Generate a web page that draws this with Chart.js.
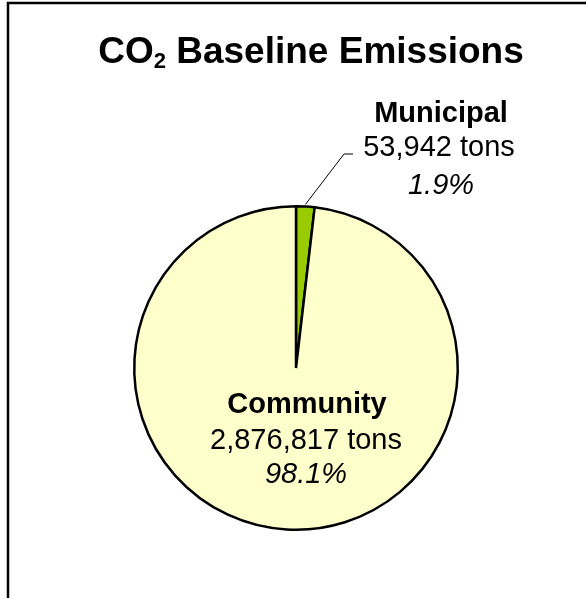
<!DOCTYPE html>
<html>
<head>
<meta charset="utf-8">
<script src="https://cdn.jsdelivr.net/npm/chart.js@4/dist/chart.umd.min.js"></script>
<style>
  html, body { margin: 0; padding: 0; background: #ffffff; }
  #wrap { width: 586px; height: 598px; position: relative; }
</style>
</head>
<body>
<div id="wrap"><canvas id="grafico"></canvas></div>
<script>
// Datos del gráfico
const categorias = ['Municipal', 'Community'];
const toneladas = [53942, 2876817];
const porcentajes = ['1.9%', '98.1%'];
const colores = ['#99CC00', '#FFFFCC'];

const fuente = '"Liberation Sans", Arial, sans-serif';

let formatoMiles = (n) => n.toLocaleString('en-US');

// Marco, título y etiquetas dibujadas a mano
const plugin = {
  id: 'etiquetas',
  beforeDraw(chart) {
    const ctx = chart.ctx;
    ctx.save();
    ctx.strokeStyle = '#000000';
    ctx.lineWidth = 2.5;
    ctx.beginPath();
    ctx.moveTo(8, 598);
    ctx.lineTo(8, 3);
    ctx.lineTo(586, 3);
    ctx.stroke();
    ctx.restore();
  },
  afterDraw(chart) {
    const ctx = chart.ctx;
    const arcs = chart.getDatasetMeta(0).data;
    const cx = arcs[0].x;
    const cy = arcs[0].y;
    const r = arcs[0].outerRadius;

    ctx.save();
    ctx.fillStyle = '#000000';
    ctx.textBaseline = 'alphabetic';

    // Título con subíndice
    const grande = 'bold 37px ' + fuente;
    const chico = 'bold 22px ' + fuente;
    ctx.font = grande;
    const wCO = ctx.measureText('CO').width;
    const wResto = ctx.measureText(' Baseline Emissions').width;
    ctx.font = chico;
    const w2 = ctx.measureText('2').width;
    let x = 311 - (wCO + w2 + wResto) / 2;
    ctx.textAlign = 'left';
    ctx.font = grande;
    ctx.fillText('CO', x, 63);
    x += wCO;
    ctx.font = chico;
    ctx.fillText('2', x, 68);
    x += w2;
    ctx.font = grande;
    ctx.fillText(' Baseline Emissions', x, 63);

    // Línea guía hacia la porción municipal
    const a = (arcs[0].startAngle + arcs[0].endAngle) / 2;
    ctx.strokeStyle = '#000000';
    ctx.lineWidth = 1;
    ctx.beginPath();
    ctx.moveTo(cx + Math.cos(a) * r, cy + Math.sin(a) * r - 2);
    ctx.lineTo(cx + 48, cy - 214);
    ctx.lineTo(cx + 57, cy - 214);
    ctx.stroke();

    // Etiquetas
    ctx.textAlign = 'center';
    const lx = cx + 145;
    ctx.font = 'bold 29px ' + fuente;
    ctx.fillText(categorias[0], lx, cy - 246);
    ctx.font = '29px ' + fuente;
    ctx.fillText(formatoMiles(toneladas[0]) + ' tons', lx - 2, cy - 212);
    ctx.font = 'italic 29px ' + fuente;
    ctx.fillText(porcentajes[0], lx, cy - 174);

    const cx2 = cx + 10;
    ctx.font = 'bold 29px ' + fuente;
    ctx.fillText(categorias[1], cx2 + 1, cy + 45);
    ctx.font = '29px ' + fuente;
    ctx.fillText(formatoMiles(toneladas[1]) + ' tons', cx2, cy + 81);
    ctx.font = 'italic 29px ' + fuente;
    ctx.fillText(porcentajes[1], cx2, cy + 115);
    ctx.restore();
  }
};

let config = {
  type: 'pie',
  data: {
    labels: categorias,
    datasets: [{
      data: toneladas,
      backgroundColor: colores,
      borderColor: '#000000',
      borderWidth: 2.5
    }]
  },
  options: {
    responsive: true,
    maintainAspectRatio: false,
    animation: false,
    layout: {
      padding: { left: 133, right: 127, top: 205, bottom: 67 }
    },
    plugins: {
      legend: { display: false },
      tooltip: { enabled: false },
      title: { display: false }
    }
  },
  plugins: [plugin]
};

let grafico = new Chart(document.getElementById('grafico'), config);
</script>
</body>
</html>
